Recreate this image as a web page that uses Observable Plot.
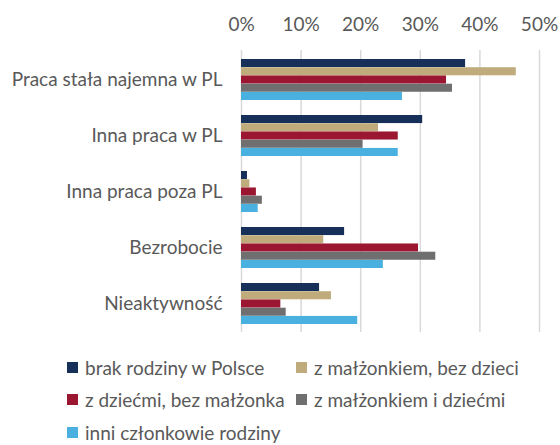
<!DOCTYPE html>
<html>
<head>
<meta charset="utf-8">
<script src="https://cdn.jsdelivr.net/npm/d3@7"></script>
<script src="https://cdn.jsdelivr.net/npm/@observablehq/plot@0.6"></script>
<style>
  body { margin: 0; background: #fff; font-family: Lato, "Open Sans", sans-serif; }
  #chart { width: 560px; }
  .legend { display: grid; grid-template-columns: 229px auto; margin: 11px 0 0 67px; color: #595959; font-size: 19px; }
  .legend div { height: 32.5px; display: flex; align-items: center; white-space: nowrap; }
  .legend span.sw { display: inline-block; width: 11px; height: 11px; margin-right: 7px; flex: none; }
</style>
</head>
<body>
<div id="chart"></div>
<script>
const categories = ["Praca stała najemna w PL", "Inna praca w PL", "Inna praca poza PL", "Bezrobocie", "Nieaktywność"];
const seriesNames = ["brak rodziny w Polsce", "z małżonkiem, bez dzieci", "z dziećmi, bez małżonka", "z małżonkiem i dziećmi", "inni członkowie rodziny"];
const colors = ["#17305a", "#bfab7c", "#9b1631", "#6f6f6f", "#4ab0e0"];
const brakRodziny = [0.376, 0.304, 0.010, 0.173, 0.131];
const zMalzonkiemBezDzieci = [0.461, 0.230, 0.014, 0.138, 0.151];
const zDziecmiBezMalzonka = [0.344, 0.263, 0.025, 0.297, 0.066];
const zMalzonkiemIDziecmi = [0.354, 0.204, 0.035, 0.326, 0.075];
const inniCzlonkowie = [0.270, 0.263, 0.028, 0.238, 0.195];
const xTicks = [0, 0.1, 0.2, 0.3, 0.4, 0.5];

const seriesValues = [brakRodziny, zMalzonkiemBezDzieci, zDziecmiBezMalzonka, zMalzonkiemIDziecmi, inniCzlonkowie];

const H = 340, mTop = 50, mBottom = 8;
const padInner = 0.27, padOuter = 0.135;
const step = (H - mTop - mBottom) / (categories.length - padInner + 2 * padOuter);
const bw = step * (1 - padInner);
const bh = bw / seriesNames.length;

const barMarks = seriesNames.map((name, i) => {
  const data = categories.map((c, j) => ({category: c, series: name, value: seriesValues[i][j]}));
  return Plot.barX(data, {
    x: "value", y: "category", fill: colors[i],
    insetTop: i * bh, insetBottom: (seriesNames.length - 1 - i) * bh
  });
});

const plot = Plot.plot({
  width: 560,
  height: H,
  marginTop: mTop,
  marginBottom: mBottom,
  marginLeft: 241,
  marginRight: 21,
  style: {fontFamily: "Lato, 'Open Sans', sans-serif", fontSize: "19px", color: "#595959", background: "#fff"},
  x: {domain: [0, 0.5], axis: "top", ticks: xTicks, tickFormat: d3.format(".0%"), tickSize: 0, tickPadding: 20, label: null},
  y: {domain: categories, paddingInner: padInner, paddingOuter: padOuter, tickSize: 0, tickPadding: 19, label: null},
  marks: [
    Plot.ruleX(xTicks, {stroke: "#d9d9d9", strokeWidth: 1.5}),
    ...barMarks
  ]
});
document.getElementById("chart").appendChild(plot);

const legend = document.createElement("div");
legend.className = "legend";
seriesNames.forEach((name, i) => {
  const item = document.createElement("div");
  const sw = document.createElement("span");
  sw.className = "sw";
  sw.style.background = colors[i];
  item.appendChild(sw);
  item.appendChild(document.createTextNode(name));
  legend.appendChild(item);
});
document.getElementById("chart").appendChild(legend);
</script>
</body>
</html>
